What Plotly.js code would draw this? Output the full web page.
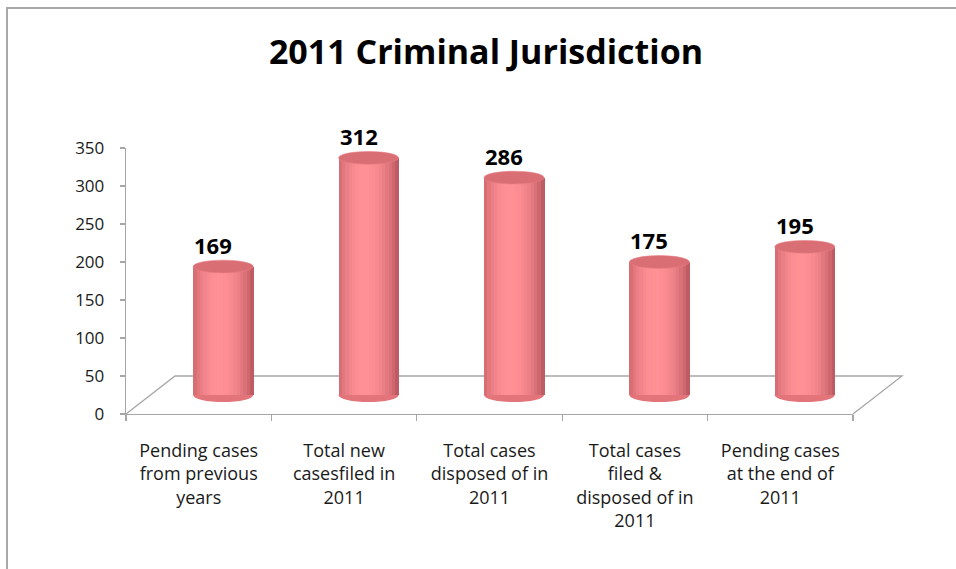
<!DOCTYPE html>
<html>
<head>
<meta charset="utf-8">
<script src="https://cdn.plot.ly/plotly-3.0.1.min.js"></script>
<style>
  html, body { margin: 0; padding: 0; background: #ffffff; }
  #frame { position: absolute; left: 6px; top: 7px; width: 960px; height: 570px;
           border-left: 2px solid #a8a8a8; border-top: 2px solid #a8a8a8; }
  #chart { position: absolute; left: 0; top: 0; width: 956px; height: 569px; }
</style>
</head>
<body>
<div id="frame"></div>
<div id="chart"></div>
<script>
// ---- data ----
const categories = [
  "Pending cases<br>from previous<br>years",
  "Total new<br>casesfiled in<br>2011",
  "Total cases<br>disposed of in<br>2011",
  "Total cases<br>filed &<br>disposed of in<br>2011",
  "Pending cases<br>at the end of<br>2011"
];
const caseCounts = [169, 312, 286, 175, 195];
const yTickValues = [0, 50, 100, 150, 200, 250, 300, 350];
const chartTitle = "2011 Criminal Jurisdiction";

// ---- geometry helpers (styling only) ----
const W = 956, H = 569;
const mL = 126, mR = 103, mT = 148, mB = 155;
const plotW = W - mL - mR, plotH = H - mT - mB;
const catPx = plotW / categories.length;
const depthPx = 38;                 // floor depth
const halfDepthUnits = (depthPx / 2) * 350 / plotH;
const shiftCat = (depthPx * 1.29 / 2) / catPx;
const barW = 0.413;
const ellUnits = 6.4 * 350 / plotH;

const N = 18;
const hi = [255, 144, 150], edgeL = [206, 102, 108], edgeR = [178, 80, 88];
function lerp(a, b, t) { return a.map((v, i) => Math.round(v + (b[i] - v) * t)); }

const traces = [];
// base-axis carrier (invisible) so the front axes are drawn
traces.push({ type: 'scatter', x: categories, y: caseCounts, xaxis: 'x', yaxis: 'y',
  mode: 'markers', marker: { opacity: 0, size: 1 }, hoverinfo: 'skip', showlegend: false });
for (let k = 0; k < N; k++) {
  const t = (k + 0.5) / N;
  const p = 0.42;
  const s = t < p ? t / p : (1 - t) / (1 - p);
  const f = Math.pow(Math.sin(s * Math.PI / 2), 0.7);
  const edge = lerp(edgeL, edgeR, t);
  const c = lerp(edge, hi, f);
  traces.push({
    type: 'bar', x: categories, y: caseCounts,
    xaxis: 'x2', yaxis: 'y2',
    width: barW / N + 0.004, offset: -barW / 2 + k * barW / N,
    marker: { color: 'rgb(' + c.join(',') + ')', line: { width: 0 } },
    hoverinfo: 'skip', showlegend: false
  });
}

const shapes = [];
caseCounts.forEach((v, i) => {
  shapes.push({ type: 'circle', xref: 'x2', yref: 'y2', layer: 'below',
    x0: i - barW / 2, x1: i + barW / 2, y0: -ellUnits * 1.1, y1: ellUnits * 1.1,
    fillcolor: 'rgb(226,116,122)', line: { width: 0 } });
  shapes.push({ type: 'circle', xref: 'x2', yref: 'y2', layer: 'above',
    x0: i - barW / 2, x1: i + barW / 2, y0: v - ellUnits, y1: v + ellUnits,
    fillcolor: 'rgb(218,110,117)', line: { width: 0.6, color: 'rgb(232,126,132)' } });
});
const backY = depthPx / plotH;
const backLX = (depthPx * 1.29) / plotW;
shapes.push({ type: 'path', xref: 'paper', yref: 'paper', layer: 'below',
  path: `M 0,0 L ${backLX},${backY} L ${1 + backLX},${backY} L 1,0`,
  line: { color: '#a6a6a6', width: 1.3 } });

const annotations = caseCounts.map((v, i) => ({
  xref: 'x2', yref: 'y2', x: categories[i], y: v, text: String(v),
  showarrow: false, yanchor: 'bottom', yshift: 5, xshift: -10,
  font: { family: 'Open Sans, sans-serif', size: 22, color: '#000000', weight: 700 }
}));

const layout = {
  width: W, height: H, autosize: false,
  margin: { l: mL, r: mR, t: mT, b: mB, pad: 0 },
  paper_bgcolor: 'rgba(0,0,0,0)', plot_bgcolor: 'rgba(0,0,0,0)',
  barmode: 'overlay', bargap: 0,
  title: { text: chartTitle, xref: 'container', yref: 'container',
    x: 486 / W, y: 1 - 52 / H, xanchor: 'center', yanchor: 'middle',
    font: { family: 'Open Sans, sans-serif', size: 34, color: '#000000', weight: 700 } },
  xaxis: { type: 'category', range: [-0.5, categories.length - 0.5], fixedrange: true,
    showline: true, linecolor: '#a6a6a6', linewidth: 1.3,
    ticks: 'outside', tickson: 'boundaries', ticklen: 6, tickcolor: '#a6a6a6', tickwidth: 1.3,
    showgrid: false, zeroline: false, ticklabelstandoff: 20,
    tickfont: { family: 'Open Sans, sans-serif', size: 18, color: '#1a1a1a' } },
  yaxis: { range: [0, 350], tickvals: yTickValues, fixedrange: true,
    showline: true, linecolor: '#a6a6a6', linewidth: 1.3,
    ticks: 'outside', ticklen: 5, tickcolor: '#a6a6a6', tickwidth: 1.3,
    showgrid: false, zeroline: false, ticklabelstandoff: 12,
    tickfont: { family: 'Open Sans, sans-serif', size: 17, color: '#1a1a1a' } },
  xaxis2: { type: 'category', overlaying: 'x', visible: false, fixedrange: true,
    range: [-0.5 - shiftCat, categories.length - 0.5 - shiftCat] },
  yaxis2: { overlaying: 'y', visible: false, fixedrange: true,
    range: [-halfDepthUnits, 350 - halfDepthUnits] },
  shapes: shapes, annotations: annotations
};

Plotly.newPlot('chart', traces, layout, { displayModeBar: false, staticPlot: true });
</script>
</body>
</html>
